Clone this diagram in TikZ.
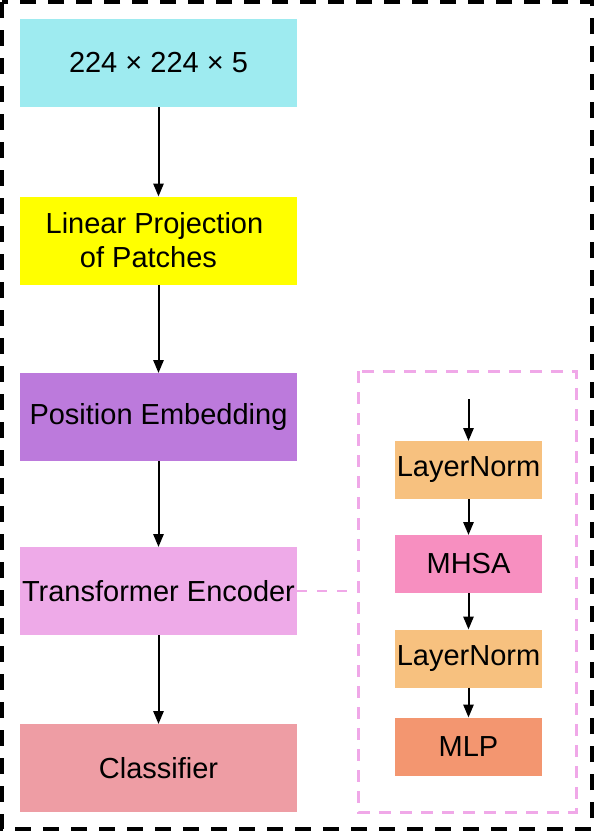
\documentclass[tikz,border=0pt]{standalone}
\usepackage{fontspec}
\setmainfont{Liberation Sans}
\usetikzlibrary{arrows}
\definecolor{inputcol}{RGB}{158,235,240}
\definecolor{projcol}{RGB}{255,255,0}
\definecolor{poscol}{RGB}{188,122,220}
\definecolor{enccol}{RGB}{238,170,232}
\definecolor{clscol}{RGB}{238,157,164}
\definecolor{normcol}{RGB}{247,193,127}
\definecolor{mhsacol}{RGB}{247,143,192}
\definecolor{mlpcol}{RGB}{243,150,112}
\definecolor{dashcol}{RGB}{240,168,232}
\tikzstyle{block}=[rectangle, inner sep=0pt, minimum width=277pt, minimum height=88pt, align=center, font=\fontsize{29}{34}\selectfont]
\tikzstyle{layer}=[block, minimum width=147pt, minimum height=58pt]
\newcommand{\block}{\node[block]}
\newcommand{\layer}{\node[layer]}

\begin{document}
\begin{tikzpicture}[x=1pt, y=-1pt, every edge/.style={ draw, line width=2pt, -triangle 45 } ]
\useasboundingbox (0,0) rectangle (594,831);
\draw[line width=4pt, dash pattern=on 16pt off 12pt] (2,2) rectangle (592,829);
\block[fill=inputcol] (input) at (158.5,63) {224 × 224 × 5};
\block[fill=projcol] (proj) at (158.5,240.5) {Linear Projection\hspace*{8pt}\\ of Patches\hspace*{20pt}};
\block[fill=poscol] (pos) at (158.5,417) {Position Embedding};
\block[fill=enccol] (enc) at (158.5,591) {Transformer Encoder};
\block[fill=clscol] (cls) at (158.5,768) {Classifier};
% encoder detail
\draw[dashcol, line width=3pt, dash pattern=on 12pt off 9pt] (358,371) rectangle (576,812);
\coordinate (in) at (468.5,399);
\layer[fill=normcol] (norm1) at (468.5,470) {LayerNorm};
\layer[fill=mhsacol] (mhsa) at (468.5,564) {MHSA};
\layer[fill=normcol] (norm2) at (468.5,658.5) {LayerNorm};
\layer[fill=mlpcol] (mlp) at (468.5,746.5) {MLP};
\coordinate (panel) at (358,591);
\draw[dashcol, line width=2.5pt, dash pattern=on 10pt off 10pt] (enc.east) -- (panel);
\path
(input) edge (proj)
(proj) edge (pos)
(pos) edge (enc)
(enc) edge (cls)
(in) edge (norm1)
(norm1) edge (mhsa)
(mhsa) edge (norm2)
(norm2) edge (mlp)
;
\end{tikzpicture}
\end{document}
